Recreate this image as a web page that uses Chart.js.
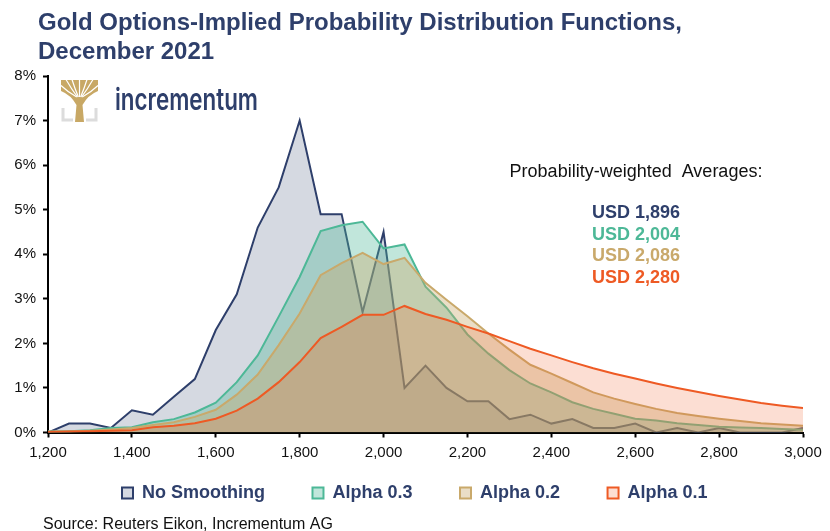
<!DOCTYPE html>
<html>
  <head>
    <meta charset="utf-8"/>
    <script src="https://cdn.jsdelivr.net/npm/chart.js@4.4.1/dist/chart.umd.min.js"></script>
    <style>
      html, body { margin: 0; padding: 0; background: #fff; }
      #chart-holder { width: 830px; height: 531px; }
    </style>
  </head>
  <body>
    <div id="chart-holder">
      <canvas id="chart-area" width="830" height="531"></canvas>
    </div>

    <script>
      // gold price levels (USD/oz)
      var prices = [1200, 1250, 1300, 1350, 1400, 1450, 1500, 1550, 1600, 1650,
                    1700, 1750, 1800, 1850, 1900, 1950, 2000, 2050, 2100, 2150,
                    2200, 2250, 2300, 2350, 2400, 2450, 2500, 2550, 2600, 2650,
                    2700, 2750, 2800, 2850, 2900, 2950, 3000];

      // probability in %
      var noSmoothing = [0.0, 0.2, 0.2, 0.1, 0.5, 0.4, 0.8, 1.2, 2.3, 3.1,
                         4.6, 5.5, 7.0, 4.9, 4.9, 2.7, 4.5, 1.0, 1.5, 1.0,
                         0.7, 0.7, 0.3, 0.4, 0.2, 0.3, 0.1, 0.1, 0.2, 0.0,
                         0.1, 0.0, 0.1, 0.0, 0.0, 0.0, 0.1];
      var alpha03 = [0.02, 0.03, 0.05, 0.1, 0.12, 0.23, 0.3, 0.45, 0.67, 1.13,
                     1.73, 2.6, 3.49, 4.52, 4.65, 4.73, 4.13, 4.22, 3.27, 2.8,
                     2.2, 1.77, 1.4, 1.1, 0.9, 0.68, 0.53, 0.42, 0.31, 0.27,
                     0.21, 0.17, 0.13, 0.11, 0.1, 0.08, 0.06];
      var alpha02 = [0.02, 0.02, 0.04, 0.07, 0.1, 0.17, 0.23, 0.35, 0.51, 0.85,
                     1.3, 1.96, 2.67, 3.53, 3.8, 4.03, 3.78, 3.92, 3.36, 2.98,
                     2.61, 2.22, 1.86, 1.52, 1.32, 1.11, 0.9, 0.76, 0.64, 0.53,
                     0.44, 0.37, 0.31, 0.26, 0.21, 0.18, 0.15];
      var alpha01 = [0.01, 0.02, 0.03, 0.04, 0.05, 0.12, 0.15, 0.21, 0.31, 0.49,
                     0.76, 1.13, 1.58, 2.12, 2.37, 2.64, 2.64, 2.84, 2.66, 2.53,
                     2.37, 2.22, 2.05, 1.88, 1.73, 1.58, 1.44, 1.32, 1.21, 1.1,
                     1.0, 0.91, 0.82, 0.74, 0.66, 0.6, 0.55];

      var seriesNames = ["No Smoothing", "Alpha 0.3", "Alpha 0.2", "Alpha 0.1"];
      var averages = ["USD 1,896", "USD 2,004", "USD 2,086", "USD 2,280"];

      var navy = "#2e3f6b";
      var gold = "#c8a865";
      var lineColors = ["#2e3f6b", "#4db897", "#c9a96b", "#ee5a24"];
      var fillColors = ["rgba(46,63,107,0.2)", "rgba(77,184,151,0.35)",
                        "rgba(201,169,107,0.38)", "rgba(238,90,36,0.2)"];

      var toPoints = function(vals) {
        var pts = [];
        for (var i = 0; i < prices.length; i++) {
          pts.push({x: prices[i], y: vals[i]});
        }
        return pts;
      };

      var allSeries = [noSmoothing, alpha03, alpha02, alpha01];
      var datasets = [];
      for (var i = 0; i < allSeries.length; i++) {
        datasets.push({
          label: seriesNames[i],
          data: toPoints(allSeries[i]),
          borderColor: lineColors[i],
          backgroundColor: fillColors[i],
          borderWidth: 2,
          pointRadius: 0,
          fill: "origin",
          tension: 0,
          order: allSeries.length - i   // unsmoothed drawn first, alpha 0.1 on top
        });
      }

      var drawLogo = function(ctx, lx, ly) {
        // grey corner brackets
        ctx.strokeStyle = "#dcdcdc";
        ctx.lineWidth = 3;
        ctx.beginPath();
        ctx.moveTo(lx + 2, ly + 28); ctx.lineTo(lx + 2, ly + 40); ctx.lineTo(lx + 12, ly + 40);
        ctx.moveTo(lx + 25, ly + 40); ctx.lineTo(lx + 35, ly + 40); ctx.lineTo(lx + 35, ly + 28);
        ctx.stroke();
        // canopy and trunk
        ctx.fillStyle = gold;
        ctx.beginPath();
        ctx.moveTo(lx, ly);
        ctx.lineTo(lx + 37, ly);
        ctx.lineTo(lx + 37, ly + 11);
        ctx.quadraticCurveTo(lx + 27, ly + 15, lx + 21.5, ly + 25);
        ctx.lineTo(lx + 23, ly + 42);
        ctx.lineTo(lx + 14, ly + 42);
        ctx.lineTo(lx + 15.5, ly + 25);
        ctx.quadraticCurveTo(lx + 10, ly + 15, lx, ly + 11);
        ctx.closePath();
        ctx.fill();
        // white gaps between the branches
        ctx.strokeStyle = "#ffffff";
        ctx.lineWidth = 1.2;
        var gaps = [[0, 6], [5, 0], [11, 0], [18.5, 0], [26, 0], [32, 0], [37, 6]];
        for (var g = 0; g < gaps.length; g++) {
          var gx = gaps[g][0], gy = gaps[g][1];
          ctx.beginPath();
          ctx.moveTo(lx + 18.5 + (gx - 18.5) * 0.15, ly + 17);
          ctx.quadraticCurveTo(lx + 18.5 + (gx - 18.5) * 0.6, ly + 9 + gy * 0.6, lx + gx, ly + gy - 0.5);
          ctx.stroke();
        }
        ctx.fillStyle = navy;
        ctx.font = "600 30px Inter, 'Open Sans', Arial, sans-serif";
        ctx.textAlign = "left";
        ctx.fillText("incrementum", 115, 110, 143);
      };

      // title, logo, averages box and source line
      var decorations = {
        id: "decorations",
        afterLayout: function(chart) {
          // nudge the legend row so it starts where the original one does
          var lg = chart.legend;
          if (!lg || !lg.lineWidths) return;
          var pad = lg.options.labels.padding;
          var start = (lg.left + lg.right + pad - lg.lineWidths[0]) / 2;
          var dx = 122 - start;
          lg.left += dx;
          lg.right += dx;
        },
        afterDraw: function(chart) {
          var ctx = chart.ctx;
          ctx.save();

          // title
          ctx.fillStyle = navy;
          ctx.font = "bold 24px 'Liberation Sans', Arial, sans-serif";
          ctx.textAlign = "left";
          ctx.textBaseline = "alphabetic";
          ctx.fillText("Gold Options-Implied Probability Distribution Functions,", 38, 30);
          ctx.fillText("December 2021", 38, 59);

          drawLogo(ctx, 61, 80);

          // probability-weighted averages
          ctx.fillStyle = "#111111";
          ctx.textAlign = "center";
          ctx.font = "18px 'Liberation Sans', Arial, sans-serif";
          ctx.fillText("Probability-weighted  Averages:", 636, 177);
          ctx.font = "bold 18px 'Liberation Sans', Arial, sans-serif";
          for (var k = 0; k < averages.length; k++) {
            ctx.fillStyle = lineColors[k];
            ctx.fillText(averages[k], 636, 218 + k * 21.7);
          }

          // source
          ctx.textAlign = "left";
          ctx.fillStyle = "#111111";
          ctx.font = "16px 'Liberation Sans', Arial, sans-serif";
          ctx.fillText("Source: Reuters Eikon, Incrementum AG", 43, 529);
          ctx.restore();
        }
      };

      var ctx = document.getElementById("chart-area").getContext("2d");
      var chart = new Chart(ctx, {
        type: "line",
        data: { datasets: datasets },
        options: {
          responsive: false,
          animation: false,
          events: [],
          layout: { padding: { top: 76, right: 27, left: 0, bottom: 19 } },
          scales: {
            x: {
              type: "linear",
              min: 1200,
              max: 3000,
              afterFit: function(scale) { scale.height = 39; },
              border: { color: "#000", width: 2 },
              grid: { drawOnChartArea: false, color: "#000", tickLength: 5, tickWidth: 2 },
              ticks: {
                stepSize: 200,
                color: "#111",
                font: { family: "'Liberation Sans', Arial, sans-serif", size: 15 },
                padding: 6,
                maxRotation: 0,
                callback: function(v) { return v.toLocaleString("en-US"); }
              }
            },
            y: {
              min: 0,
              max: 8,
              afterFit: function(scale) { scale.width = 48; },
              border: { color: "#000", width: 2 },
              grid: { drawOnChartArea: false, color: "#000", tickLength: 5, tickWidth: 2 },
              ticks: {
                stepSize: 1,
                color: "#111",
                font: { family: "'Liberation Sans', Arial, sans-serif", size: 15 },
                padding: 7,
                callback: function(v) { return v + "%"; }
              }
            }
          },
          plugins: {
            tooltip: { enabled: false },
            legend: {
              position: "bottom",
              labels: {
                sort: function(a, b) { return a.datasetIndex - b.datasetIndex; },
                boxWidth: 11,
                boxHeight: 11,
                padding: 12.5,
                color: navy,
                font: { family: "'Liberation Sans', Arial, sans-serif", size: 18, weight: "bold" },
                generateLabels: function(ch) {
                  var items = Chart.defaults.plugins.legend.labels.generateLabels(ch);
                  for (var j = 0; j < items.length; j++) {
                    items[j].fontColor = navy;
                    items[j].lineWidth = 2;
                    if (items[j].datasetIndex < seriesNames.length - 1) {
                      items[j].text = items[j].text + "       ";
                    }
                  }
                  return items;
                }
              }
            }
          }
        },
        plugins: [decorations]
      });
    </script>
  </body>
</html>
